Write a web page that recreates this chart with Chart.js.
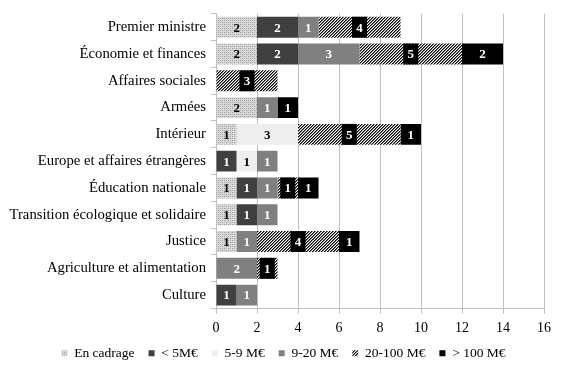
<!DOCTYPE html>
<html>
<head>
<meta charset="utf-8">
<script src="https://cdn.jsdelivr.net/npm/chart.js@4/dist/chart.umd.min.js"></script>
<style>
    html, body { margin: 0; padding: 0; background: #fff; }
    #wrap { width: 567px; height: 375px; }
</style>
</head>
<body>
<div id="wrap"><canvas id="myChart"></canvas></div>
<script>
var ministeres = [
    "Premier ministre",
    "Économie et finances",
    "Affaires sociales",
    "Armées",
    "Intérieur",
    "Europe et affaires étrangères",
    "Éducation nationale",
    "Transition écologique et solidaire",
    "Justice",
    "Agriculture et alimentation",
    "Culture"
];

var tranches = ["En cadrage", "< 5M€", "5-9 M€", "9-20 M€", "20-100 M€", "> 100 M€"];

var enCadrage = [2, 2, 0, 2, 1, 0, 1, 1, 1, 0, 0];
var moins5 = [2, 2, 0, 0, 0, 1, 1, 1, 0, 0, 1];
var de5a9 = [0, 0, 0, 0, 3, 1, 0, 0, 0, 0, 0];
var de9a20 = [1, 3, 0, 1, 0, 1, 1, 1, 1, 2, 1];
var de20a100 = [4, 5, 3, 0, 5, 0, 1, 0, 4, 1, 0];
var plus100 = [0, 2, 0, 1, 1, 0, 1, 0, 1, 0, 0];

var xTicks = [0, 2, 4, 6, 8, 10, 12, 14, 16];

var police = "'Liberation Serif', 'DejaVu Serif', serif";

// motifs
function motifPoints() {
    var c = document.createElement("canvas");
    c.width = 4;
    c.height = 4;
    var ctx = c.getContext("2d");
    ctx.fillStyle = "#d8d8d8";
    ctx.fillRect(0, 0, 4, 4);
    ctx.fillStyle = "#999";
    ctx.fillRect(0, 0, 1, 1);
    ctx.fillRect(2, 2, 1, 1);
    ctx.fillStyle = "#b8b8b8";
    ctx.fillRect(2, 0, 1, 1);
    ctx.fillRect(0, 2, 1, 1);
    return c.getContext("2d").createPattern(c, "repeat");
}

function motifHachures() {
    var c = document.createElement("canvas");
    c.width = 3;
    c.height = 3;
    var ctx = c.getContext("2d");
    ctx.fillStyle = "#ffffff";
    ctx.fillRect(0, 0, 3, 3);
    for (var i = 0; i < 3; i++) {
        ctx.fillStyle = "#000";
        ctx.fillRect(2 - i, i, 1, 1);
        ctx.fillStyle = "#777";
        ctx.fillRect((3 - i) % 3, i, 1, 1);
    }
    return c.getContext("2d").createPattern(c, "repeat");
}

var couleurs = [motifPoints(), "#404040", "#eeeeee", "#808080", motifHachures(), "#000000"];
var couleursTexte = ["#000", "#fff", "#000", "#fff", "#fff", "#fff"];
var valeurs = [enCadrage, moins5, de5a9, de9a20, de20a100, plus100];

var datasets = [];
for (var i = 0; i < tranches.length; i++) {
    datasets.push({
        label: tranches[i],
        data: valeurs[i],
        backgroundColor: couleurs[i],
        borderWidth: 0,
        categoryPercentage: 1,
        barPercentage: 0.78
    });
}

// étiquettes dans les barres
var etiquettes = {
    id: "etiquettes",
    afterLayout: function (chart) {
        // légende centrée sur toute la largeur
        chart.legend.left = 0;
        chart.legend.right = chart.width;
        chart.legend.width = chart.width;
    },
    afterDatasetsDraw: function (chart) {
        var ctx = chart.ctx;
        ctx.save();
        ctx.font = "bold 13px " + police;
        ctx.textAlign = "center";
        ctx.textBaseline = "middle";
        chart.data.datasets.forEach(function (ds, di) {
            var meta = chart.getDatasetMeta(di);
            meta.data.forEach(function (bar, j) {
                var v = ds.data[j];
                if (!v) return;
                var cx = (bar.x + bar.base) / 2;
                if (di == 4) {
                    ctx.fillStyle = "#000";
                    ctx.fillRect(cx - 7.5, bar.y - bar.height / 2, 15, bar.height);
                }
                ctx.fillStyle = couleursTexte[di];
                ctx.fillText(v, cx, bar.y + 1);
            });
        });
        ctx.restore();
    }
};

new Chart(document.getElementById("myChart"), {
    type: "bar",
    data: {
        labels: ministeres,
        datasets: datasets
    },
    plugins: [etiquettes],
    options: {
        indexAxis: "y",
        responsive: true,
        maintainAspectRatio: false,
        animation: false,
        layout: {
            padding: { top: 13, right: 23, left: 0, bottom: 5 }
        },
        scales: {
            x: {
                stacked: true,
                min: 0,
                max: 16,
                afterBuildTicks: function (axis) {
                    axis.ticks = xTicks.map(function (v) { return { value: v }; });
                },
                afterFit: function (axis) { axis.height = 24; },
                grid: { color: "#bfbfbf", tickLength: 5, drawTicks: true },
                border: { color: "#bfbfbf" },
                ticks: { color: "#000", font: { family: police, size: 14 }, padding: 6 }
            },
            y: {
                stacked: true,
                afterFit: function (axis) { axis.width = 216; },
                grid: { drawOnChartArea: false, color: "#bfbfbf", tickLength: 5 },
                border: { color: "#bfbfbf" },
                ticks: { color: "#000", font: { family: police, size: 14.7 }, padding: 5 }
            }
        },
        plugins: {
            legend: {
                position: "bottom",
                labels: {
                    boxWidth: 6,
                    boxHeight: 6,
                    padding: 14,
                    color: "#000",
                    font: { family: police, size: 13.5 }
                }
            },
            tooltip: { enabled: false }
        }
    }
});
</script>
</body>
</html>
